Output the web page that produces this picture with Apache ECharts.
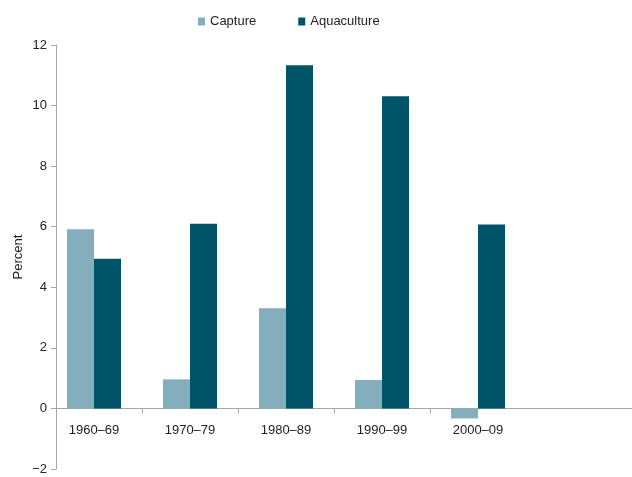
<!DOCTYPE html>
<html>
<head>
<meta charset="utf-8">
<style>
  html, body { margin: 0; padding: 0; background: #fff; }
  #chart { width: 632px; height: 477px; }
</style>
<script src="https://cdn.jsdelivr.net/npm/echarts@6/dist/echarts.min.js"></script>
</head>
<body>
<div id="chart"></div>
<script>
// data
var decades = ['1960–69', '1970–79', '1980–89', '1990–99', '2000–09'];
var capture = [5.92, 0.96, 3.31, 0.94, -0.33];
var aquaculture = [4.94, 6.1, 11.33, 10.31, 6.07];
var yTicks = { min: -2, max: 12, step: 2 };

var axisGray = '#a6a6a6';
var textColor = '#222';
var font = 'Liberation Sans, Arial, Helvetica, sans-serif';

var chart = echarts.init(document.getElementById('chart'));

// three grids share the same vertical extent:
// 0 = bars + category labels, 1 = visible y axis + baseline, 2 = category divider ticks
var gridTop = 45, gridBottom = 8;
var hiddenY = function (idx) {
    return {
        type: 'value', gridIndex: idx, min: yTicks.min, max: yTicks.max, interval: yTicks.step,
        axisLine: { show: false }, axisTick: { show: false },
        axisLabel: { show: false }, splitLine: { show: false }
    };
};
var makeGrid = function (g) {
    g.top = gridTop;
    g.bottom = gridBottom;
    g.containLabel = false;
    g.outerBoundsMode = 'none';
    return g;
};

chart.setOption({
    animation: false,
    textStyle: { fontFamily: font },
    legend: {
        left: 193, top: 10,
        icon: 'rect', itemWidth: 7, itemHeight: 8, itemGap: 42,
        textStyle: { fontSize: 13, color: textColor, fontFamily: font },
        data: ['Capture', 'Aquaculture']
    },
    grid: [
        makeGrid({ left: 46, width: 480 }),
        makeGrid({ left: 56, right: 0 }),
        makeGrid({ left: 142, width: 288 })
    ],
    xAxis: [
        {
            // sits at the grid bottom; labels pulled up under the zero line
            type: 'category', gridIndex: 0, data: decades,
            axisLine: { show: false, onZero: false },
            axisTick: { show: false },
            axisLabel: { fontSize: 13, color: textColor, margin: -45, fontFamily: font }
        },
        {
            type: 'value', gridIndex: 1, min: 0, max: 1,
            axisLine: { show: true, onZero: true, lineStyle: { color: axisGray, width: 1 } },
            axisTick: { show: false }, axisLabel: { show: false }, splitLine: { show: false }
        },
        {
            type: 'category', gridIndex: 2, data: ['', '', ''],
            axisLine: { show: true, onZero: true, lineStyle: { opacity: 0 } },
            axisTick: { show: true, length: 5, lineStyle: { color: axisGray } },
            axisLabel: { show: false }
        }
    ],
    yAxis: [
        hiddenY(0),
        {
            type: 'value', gridIndex: 1, min: yTicks.min, max: yTicks.max, interval: yTicks.step,
            name: 'Percent', nameLocation: 'middle', nameGap: 31, nameMoveOverlap: false,
            nameTextStyle: { fontSize: 13, color: textColor, fontFamily: font },
            axisLine: { show: true, lineStyle: { color: axisGray } },
            axisTick: { show: true, length: 5, lineStyle: { color: axisGray } },
            axisLabel: {
                fontSize: 13, color: textColor, margin: 9, fontFamily: font,
                formatter: function (v) { return v < 0 ? '\u2212' + Math.abs(v) : String(v); }
            },
            splitLine: { show: false }
        },
        hiddenY(2)
    ],
    series: [
        {
            name: 'Capture', type: 'bar', xAxisIndex: 0, yAxisIndex: 0,
            data: capture, barWidth: 27, barGap: '0%',
            itemStyle: { color: '#85aebd' }
        },
        {
            name: 'Aquaculture', type: 'bar', xAxisIndex: 0, yAxisIndex: 0,
            data: aquaculture, barWidth: 27, barGap: '0%',
            itemStyle: { color: '#005467' }
        }
    ]
});
</script>
</body>
</html>
